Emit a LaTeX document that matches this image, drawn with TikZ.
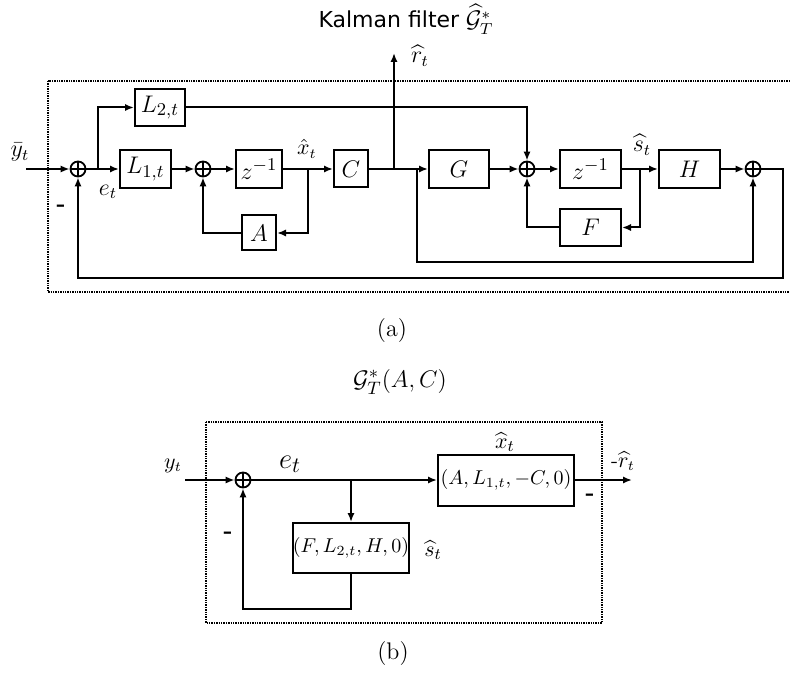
\documentclass[tikz,border=0pt]{standalone}
\usepackage{fontspec}
\usepackage{amsmath}
\usetikzlibrary{arrows.meta,calc}
\newfontfamily\dejavu{DejaVu Sans}
\begin{document}
\begin{tikzpicture}[x=0.5pt,y=-0.5pt,
  >={Latex[length=4.5pt,width=3.6pt]},
  sig/.style={line width=1pt},
  blk/.style={draw,line width=1pt,inner sep=0pt,font=\fontsize{13}{15}\selectfont},
  blkb/.style={draw,line width=1pt,inner sep=0pt,font=\fontsize{10.2}{12}\selectfont},
  sumj/.style={circle,draw,line width=0.9pt,minimum size=7.5pt,inner sep=0pt,
    path picture={\draw[line width=0.9pt] (path picture bounding box.north) -- (path picture bounding box.south)
      (path picture bounding box.west) -- (path picture bounding box.east);}},
  frame/.style={line width=1.1pt,dash pattern=on 0.7pt off 0.5pt},
  lbl/.style={inner sep=0pt,font=\fontsize{11.5}{13}\selectfont},
  captxt/.style={inner sep=0pt,font=\fontsize{12}{14}\selectfont},
  minus/.style={inner sep=0pt,font=\fontsize{12}{14}\bfseries\selectfont}
]
\useasboundingbox (0,0) rectangle (790,678);

% ---------- (a) ----------
\node[anchor=base,inner sep=0pt] (ttl) at (406,28) {{\dejavu\fontsize{11}{13}\selectfont Kalman filter} {\fontsize{11.5}{13}\selectfont$\widehat{\mathcal G}^*_T$}};
\draw[frame] (48,81) rectangle (796,292);

\node[sumj] (s1) at (78,169) {};
\node[blk,minimum width=25pt,minimum height=18.5pt] (L2) at (160,107.5) {$L_{2,t}$};
\node[blk,minimum width=25.5pt,minimum height=19pt] (L1) at (145.5,169) {$L_{1,t}$};
\node[sumj] (s2) at (203,169) {};
\node[blk,minimum width=23pt,minimum height=19pt] (z1) at (259,169) {$z^{-1}$};
\node[blk,minimum width=17pt,minimum height=17.5pt] (A) at (259,233) {$A$};
\node[blk,minimum width=17pt,minimum height=18.5pt] (C) at (351,169) {$C$};
\node[blk,minimum width=30pt,minimum height=19pt] (G) at (459,169) {$G$};
\node[sumj] (s3) at (527,169) {};
\node[blk,minimum width=30.5pt,minimum height=19pt] (z2) at (590.5,169) {$z^{-1}$};
\node[blk,minimum width=30.5pt,minimum height=18.5pt] (F) at (590.5,227.5) {$F$};
\node[blk,minimum width=30.5pt,minimum height=19pt] (H) at (689.5,169) {$H$};
\node[sumj] (s4) at (753,169) {};

\coordinate (in1) at (26,169);
\coordinate (b1) at (98,169);
\coordinate (bx) at (308,169);
\coordinate (br) at (394,169);
\coordinate (rt) at (394,53);
\coordinate (bg) at (417,169);
\coordinate (lg) at (417,262);
\coordinate (bs) at (640,169);
\coordinate (ra) at (783,169);
\coordinate (rb) at (783,278);

\draw[sig,->] (in1) -- (s1);
\draw[sig,->] (s1) -- (L1);
\draw[sig,->] (b1) |- (L2);
\draw[sig,->] (L1) -- (s2);
\draw[sig,->] (s2) -- (z1);
\draw[sig,->] (z1) -- (C);
\draw[sig,->] (bx) |- (A);
\draw[sig,->] (A) -| (s2);
\draw[sig,->] (C) -- (G);
\draw[sig,->] (br) -- (rt);
\draw[sig,->] (L2) -| (s3);
\draw[sig,->] (G) -- (s3);
\draw[sig,->] (s3) -- (z2);
\draw[sig,->] (z2) -- (H);
\draw[sig,->] (bs) |- (F);
\draw[sig,->] (F) -| (s3);
\draw[sig,->] (H) -- (s4);
\draw[sig,->] (bg) -- (lg) -| (s4);
\draw[sig,->] (s4) -- (ra) -- (rb) -| (s1);

\node[lbl] (ybar) at (20,152) {$\bar y_t$};
\node[lbl,font=\fontsize{12}{14}\selectfont] (et1) at (108,192) {$e_t$};
\node[minus] (m1) at (61,208) {-};
\node[lbl,font=\fontsize{10.5}{12}\selectfont] (xh1) at (307,149) {$\hat x_t$};
\node[lbl,font=\fontsize{12}{14}\selectfont] (rh1) at (420,56) {$\widehat r_t$};
\node[lbl,font=\fontsize{12}{14}\selectfont] (sh1) at (642,145) {$\widehat s_t$};

\node[captxt] (capa) at (392,331) {(a)};

% ---------- (b) ----------
\node[captxt,font=\fontsize{12.5}{14}\selectfont] (ttlb) at (400,382) {$\mathcal G^*_T(A,C)$};
\draw[frame] (206,422) rectangle (602,623);

\node[sumj] (sb) at (243,480) {};
\node[blkb,minimum width=68pt,minimum height=25.5pt] (P1) at (506,480) {$(A,L_{1,t},-C,0)$};
\node[blkb,minimum width=58pt,minimum height=25pt] (P2) at (351,548) {$(F,L_{2,t},H,0)$};

\coordinate (inb) at (185,480);
\coordinate (bb) at (351,480);
\coordinate (outb) at (632,480);
\coordinate (fb) at (351,609);

\draw[sig,->] (inb) -- (sb);
\draw[sig,->] (sb) -- (P1);
\draw[sig,->] (bb) -- (P2);
\draw[sig,->] (P1) -- (outb);
\draw[sig,->] (P2) -- (fb) -| (sb);

\node[lbl,font=\fontsize{10.5}{12}\selectfont] (ytb) at (173,466) {$y_t$};
\node[lbl,font=\fontsize{15}{17}\selectfont] (etb) at (290,464) {$e_t$};
\node[lbl,font=\fontsize{11}{13}\selectfont] (xhb) at (505,442) {$\widehat x_t$};
\node[lbl,font=\fontsize{10.5}{12}\selectfont] (rhb) at (623,461) {-$\widehat r_t$};
\node[minus] (mb1) at (590,497) {-};
\node[lbl,font=\fontsize{11}{13}\selectfont] (shb) at (433,550) {$\widehat s_t$};
\node[minus] (mb2) at (228,535) {-};

\node[captxt] (capb) at (393,654) {(b)};
\end{tikzpicture}
\end{document}
